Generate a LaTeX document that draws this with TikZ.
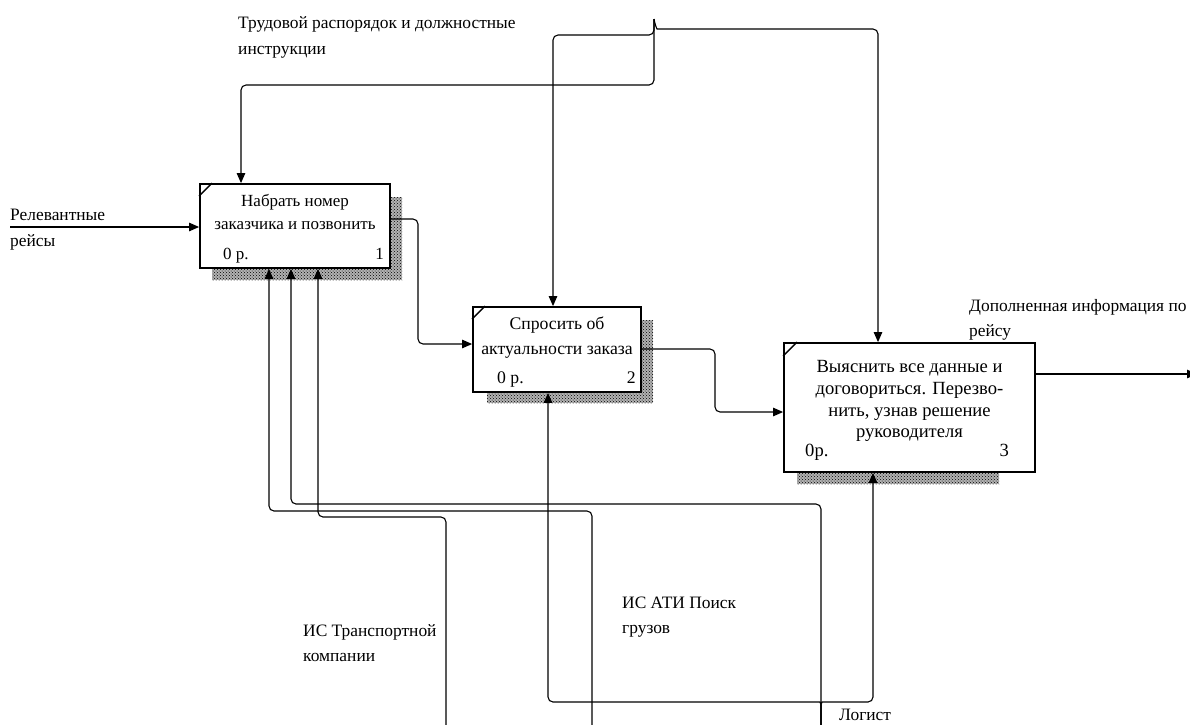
\documentclass[tikz,border=0pt]{standalone}
\usepackage{fontspec}
\setmainfont{Liberation Serif}
\usetikzlibrary{arrows.meta,patterns}
\begin{document}
\begin{tikzpicture}[x=1pt,y=1pt,
  box/.style={draw, line width=1.8pt, fill=white, inner sep=0pt},
  conn/.style={line width=1.1pt, rounded corners=5pt},
  arr/.style={-{Triangle[length=10pt,width=8.5pt]}},
  txt/.style={font=\fontsize{17}{23}\selectfont, inner sep=0pt},
  txtb/.style={font=\fontsize{17.7}{23}\selectfont, inner sep=0pt},
  txtc/.style={font=\fontsize{18.6}{23}\selectfont, inner sep=0pt},
  lbl/.style={font=\fontsize{17.4}{26}\selectfont, inner sep=0pt},
  shadowfill/.style={fill=black!30, postaction={pattern=crosshatch dots, pattern color=black}},
  corner/.style={line width=1.4pt},
]
\useasboundingbox (0,0) rectangle (1190,-724);

% shadows
\path[shadowfill] (390,-197) rectangle (402,-280);
\path[shadowfill] (212,-268) rectangle (390,-280);
\path[shadowfill] (641,-320) rectangle (653,-403);
\path[shadowfill] (487,-392) rectangle (641,-403);
\path[shadowfill] (797,-472) rectangle (999,-484);

% boxes
\node[box, minimum width=190pt, minimum height=84pt] (b1) at (295,-226) {};
\node[box, minimum width=168pt, minimum height=85pt] (b2) at (557,-349.5) {};
\node[box, minimum width=251pt, minimum height=129pt] (b3) at (909.5,-407.5) {};
\draw[corner] ([yshift=-13pt]b1.north west) -- ([xshift=13pt]b1.north west);
\draw[corner] ([yshift=-13pt]b2.north west) -- ([xshift=13pt]b2.north west);
\draw[corner] ([yshift=-14pt]b3.north west) -- ([xshift=14pt]b3.north west);

% box texts
\node[txt, anchor=base] (t1a) at (295,-206) {Набрать номер};
\node[txt, anchor=base] (t1b) at (295,-229) {заказчика и позвонить};
\node[txt, anchor=base west] (t1c) at (223,-259) {0 р.};
\node[txt, anchor=base east] (t1d) at (384,-259) {1};

\node[txtb, anchor=base] (t2a) at (557,-329) {Спросить об};
\node[txtb, anchor=base] (t2b) at (557,-354) {актуальности заказа};
\node[txtb, anchor=base west] (t2c) at (497,-383) {0 р.};
\node[txtb, anchor=base east] (t2d) at (636,-383) {2};

\node[txtc, anchor=base] (t3a) at (909.5,-372) {Выяснить все данные и};
\node[txtc, anchor=base] (t3b) at (909.5,-394) {договориться. Перезво-};
\node[txtc, anchor=base] (t3c) at (909.5,-416) {нить, узнав решение};
\node[txtc, anchor=base] (t3d) at (909.5,-437) {руководителя};
\node[txtc, anchor=base west] (t3e) at (805,-456) {0р.};
\node[txtc, anchor=base east] (t3f) at (1009,-456) {3};

% labels
\node[lbl, anchor=base west] (l1a) at (238,-28) {Трудовой распорядок и должностные};
\node[lbl, anchor=base west] (l1b) at (238,-54) {инструкции};
\node[lbl, anchor=base west] (l2a) at (10,-220) {Релевантные};
\node[lbl, anchor=base west] (l2b) at (10,-246) {рейсы};
\node[lbl, anchor=base west] (l3a) at (969,-311) {Дополненная информация по};
\node[lbl, anchor=base west] (l3b) at (969,-336) {рейсу};
\node[lbl, anchor=base west] (l4a) at (303,-636) {ИС Транспортной};
\node[lbl, anchor=base west] (l4b) at (303,-661) {компании};
\node[lbl, anchor=base west] (l5a) at (622,-608) {ИС АТИ Поиск};
\node[lbl, anchor=base west] (l5b) at (622,-633) {грузов};
\node[lbl, anchor=base west] (l6) at (839,-720) {Логист};

% endpoints
\coordinate (ctl) at (654,-19);
\coordinate (inp) at (10,-227);
\coordinate (outp) at (1197,-374);
\coordinate (mA) at (446,-730);
\coordinate (mB) at (592,-730);
\coordinate (mC) at (821,-730);

% input / outputs
\draw[conn,arr] (inp) -- (inp -| b1.west);
\draw[conn,arr] (b1.east |- 0,-219) -- (418,-219) -- (418,-344) -- (b2.west |- 0,-344);
\draw[conn,arr] (b2.east |- 0,-349) -- (715,-349) -- (715,-412) -- (b3.west |- 0,-412);
\draw[conn,arr] (b3.east |- 0,-374) -- (outp);

% controls
\draw[conn,arr] (ctl) .. controls (655,-25) and (657,-29) .. (662,-29) -- (878,-29) -- (b3.north -| 878,0);
\draw[conn,arr] (ctl) -- (654,-85) -- (241,-85) -- (b1.north -| 241,0);
\draw[conn,arr] (ctl) -- (654,-35) -- (553,-35) -- (b2.north -| 553,0);

% mechanisms
\draw[conn,arr] (mA) -- (446,-517) -- (318,-517) -- (b1.south -| 318,0);
\draw[conn,arr] (mB) -- (592,-511) -- (269,-511) -- (b1.south -| 269,0);
\draw[conn,arr] (mC) -- (821,-504) -- (291,-504) -- (b1.south -| 291,0);
\draw[conn,arr] (mC) -- (821,-708) .. controls (821,-704) and (819,-702) .. (815,-702) -- (548,-702) -- (b2.south -| 548,0);
\draw[conn,arr] (mC) -- (821,-708) .. controls (821,-704) and (823,-702) .. (827,-702) -- (873,-702) -- (b3.south -| 873,0);
\end{tikzpicture}
\end{document}
